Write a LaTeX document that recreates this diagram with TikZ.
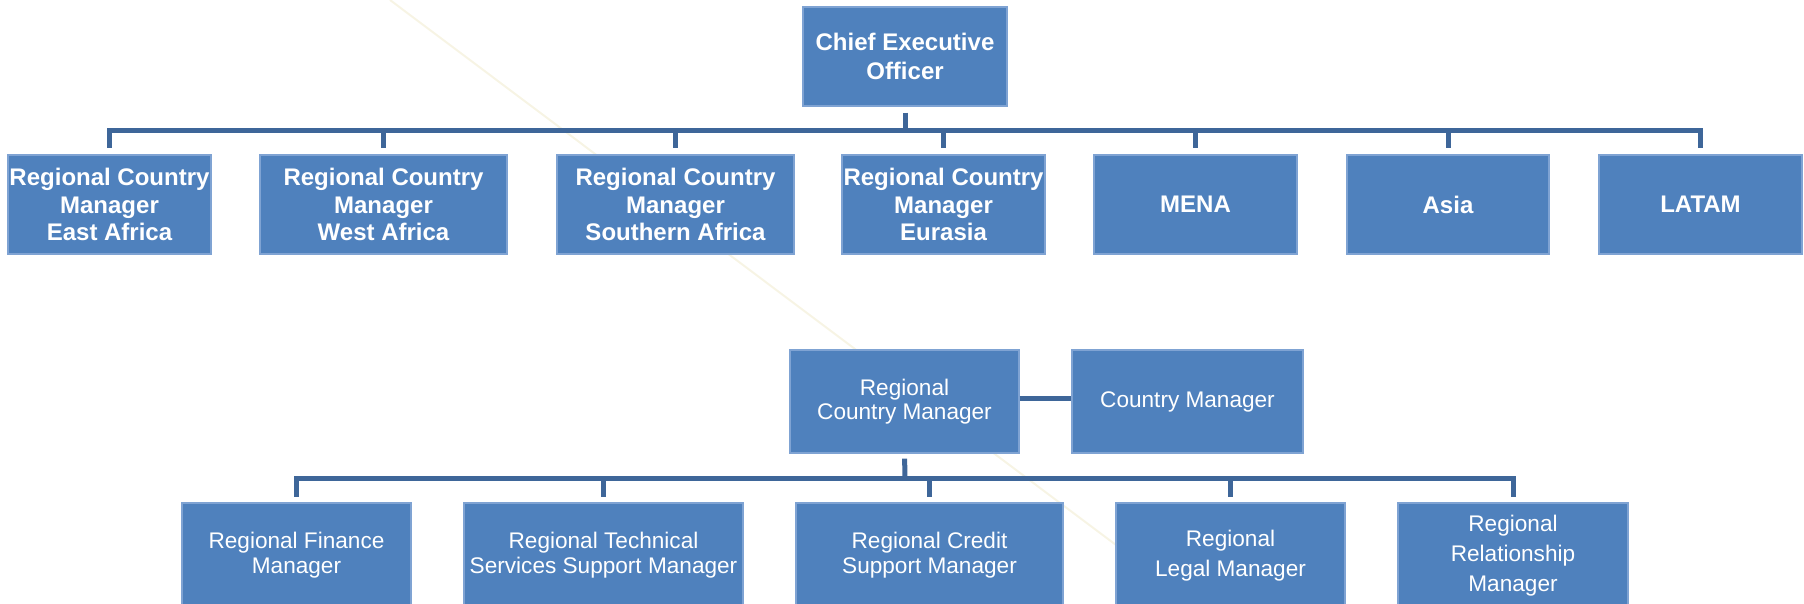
\documentclass[tikz,border=0pt]{standalone}
\usepackage{fontspec}
\setmainfont{Liberation Sans}
\definecolor{kastenblau}{HTML}{4F81BD}
\definecolor{randblau}{HTML}{7FA3D3}
\definecolor{linienblau}{HTML}{3E6699}
\definecolor{hinweis}{HTML}{F7F4E4}

\begin{document}
\begin{tikzpicture}[x=0.5pt, y=-0.5pt,
	kasten/.style={fill=kastenblau, draw=randblau, line width=0.6pt, text=white, align=center, inner sep=0pt},
	oben/.style={kasten, minimum height=49.5pt, font=\fontsize{12}{13.75}\selectfont\bfseries},
	unten/.style={kasten, font=\fontsize{11.3}{12.5}\selectfont},
	linie/.style={draw=linienblau, line width=2.5pt}]
	\clip (0,0) rectangle (1804,604);
	% Hintergrundlinie
	\draw[hinweis, line width=1pt] (390,0) -- (1116,545);

	% Geschaeftsfuehrung
	\node[oben, minimum width=102pt, font=\fontsize{12}{14.5}\selectfont\bfseries] (ceo) at (905,56.5) {Chief Executive\\Officer};

	% Regionen
	\node[oben, minimum width=101.5pt] (ostafrika) at (109.5,204.5) {Regional Country\\Manager\\East Africa};
	\node[oben, minimum width=123.5pt] (westafrika) at (383.5,204.5) {Regional Country\\Manager\\West Africa};
	\node[oben, minimum width=118.5pt] (suedafrika) at (675.5,204.5) {Regional Country\\Manager\\Southern Africa};
	\node[oben, minimum width=101.5pt] (eurasien) at (943.5,204.5) {Regional Country\\Manager\\Eurasia};
	\node[oben, minimum width=101.5pt] (mena) at (1195.5,204.5) {MENA};
	\node[oben, minimum width=101pt] (asien) at (1448,204.5) {Asia};
	\node[oben, minimum width=101.5pt] (latam) at (1700.5,204.5) {LATAM};

	% Verbindungen oben
	\coordinate (obenbus) at (905,130.5);
	\draw[linie, shorten <=3pt] (ceo.south) -- (obenbus);
	\foreach \n in {ostafrika,westafrika,suedafrika,eurasien,mena,asien,latam}
		\draw[linie, shorten >=3pt] (obenbus) -| (\n.north);

	% Regionalleitung
	\node[unten, minimum width=114.5pt, minimum height=51.5pt, font=\fontsize{11.3}{12}\selectfont] (rcm) at (904.5,401.5) {Regional\\Country Manager};
	\node[unten, minimum width=115.5pt, minimum height=51.5pt] (cm) at (1187.5,401.5) {Country Manager};
	\draw[linie] ([yshift=1.5pt]rcm.east) -- ([yshift=1.5pt]cm.west);

	% Stellen unten
	\node[unten, minimum width=114.5pt, minimum height=52.5pt] (finanz) at (296.5,555.5) {Regional Finance\\Manager};
	\node[unten, minimum width=139.5pt, minimum height=52.5pt] (technik) at (603.5,555.5) {Regional Technical\\Services Support Manager};
	\node[unten, minimum width=133.5pt, minimum height=52.5pt] (kredit) at (929.5,555.5) {Regional Credit\\Support Manager};
	\node[unten, minimum width=114.5pt, minimum height=52.5pt, font=\fontsize{11.3}{15}\selectfont] (recht) at (1230.5,555.5) {Regional\\Legal Manager};
	\node[unten, minimum width=115pt, minimum height=52.5pt, font=\fontsize{11.3}{15}\selectfont] (kunden) at (1513,555.5) {Regional\\Relationship\\Manager};

	% Verbindungen unten
	\coordinate (untenbus) at (905,478);
	\draw[linie, shorten <=2.5pt] (rcm.south) -- (untenbus);
	\foreach \n in {finanz,technik,kredit,recht,kunden}
		\draw[linie, shorten >=2.5pt] (untenbus) -| (\n.north);
\end{tikzpicture}
\end{document}
